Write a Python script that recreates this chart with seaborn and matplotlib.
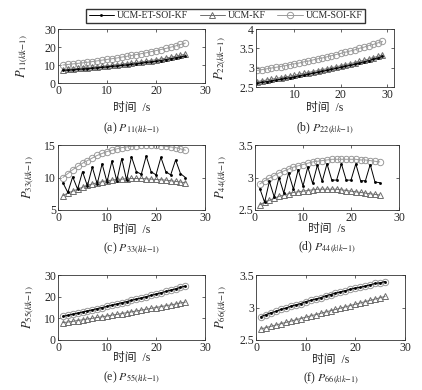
import numpy as np
import pandas as pd
import seaborn as sns
import matplotlib.pyplot as plt
from matplotlib.ticker import FixedLocator, FuncFormatter

# time steps
t = [1, 2, 3, 4, 5, 6, 7, 8, 9, 10, 11, 12, 13, 14, 15, 16, 17, 18, 19, 20,
     21, 22, 23, 24, 25, 26]
t_b = [2, 3, 4, 5, 6, 7, 8, 9, 10, 11, 12, 13, 14, 15, 16, 17, 18, 19, 20,
       21, 22, 23, 24, 25, 26, 27, 28, 29]

series_names = ["UCM-ET-SOI-KF", "UCM-KF", "UCM-SOI-KF"]

# (a) P11
et_a = [7.0, 7.2, 7.4, 7.6, 7.8, 8.0, 8.2, 8.5, 8.7, 9.0, 9.3, 9.5, 9.8,
        10.1, 10.4, 10.7, 11.1, 11.4, 11.8, 12.1, 12.5, 13.0, 13.5, 14.0,
        14.5, 15.0]
kf_a = [7.5, 7.7, 7.9, 8.1, 8.4, 8.6, 8.8, 9.1, 9.3, 9.6, 9.9, 10.2, 10.5,
        10.8, 11.1, 11.4, 11.8, 12.1, 12.5, 12.9, 13.3, 13.8, 14.3, 14.8,
        15.4, 16.0]
soi_a = [10.0, 10.3, 10.6, 10.9, 11.2, 11.5, 11.9, 12.3, 12.7, 13.1, 13.5,
         13.9, 14.4, 14.8, 15.3, 15.8, 16.3, 16.8, 17.4, 18.0, 18.6, 19.2,
         19.9, 20.6, 21.4, 22.2]

# (b) P22
et_b = [2.60, 2.62, 2.64, 2.66, 2.68, 2.70, 2.72, 2.74, 2.76, 2.79, 2.81,
        2.83, 2.86, 2.88, 2.91, 2.93, 2.96, 2.98, 3.01, 3.04, 3.06, 3.09,
        3.12, 3.15, 3.18, 3.22, 3.25, 3.29]
kf_b = [2.64, 2.66, 2.68, 2.70, 2.72, 2.74, 2.76, 2.78, 2.80, 2.83, 2.85,
        2.87, 2.90, 2.92, 2.95, 2.97, 3.00, 3.02, 3.05, 3.08, 3.10, 3.13,
        3.16, 3.19, 3.22, 3.26, 3.29, 3.33]
soi_b = [2.93, 2.95, 2.97, 2.99, 3.01, 3.03, 3.05, 3.08, 3.10, 3.12, 3.15,
         3.17, 3.20, 3.23, 3.25, 3.28, 3.31, 3.34, 3.37, 3.40, 3.43, 3.46,
         3.50, 3.53, 3.57, 3.60, 3.64, 3.68]

# (c) P33
et_c = [9.2, 7.7, 10.1, 8.2, 10.9, 8.7, 11.6, 9.0, 12.1, 9.3, 12.5, 9.5,
        12.9, 9.6, 13.2, 10.9, 10.5, 13.3, 10.9, 10.4, 13.1, 10.9, 10.4,
        12.7, 10.6, 10.0]
kf_c = [7.2, 7.6, 7.9, 8.2, 8.5, 8.8, 9.0, 9.2, 9.35, 9.5, 9.6, 9.7, 9.75,
        9.8, 9.85, 9.85, 9.85, 9.8, 9.75, 9.7, 9.65, 9.6, 9.5, 9.4, 9.3,
        9.2]
soi_c = [10.0, 10.6, 11.2, 11.7, 12.2, 12.6, 13.0, 13.4, 13.7, 14.0, 14.2,
         14.4, 14.6, 14.7, 14.8, 14.9, 15.0, 15.0, 15.0, 15.0, 14.9, 14.8,
         14.7, 14.6, 14.4, 14.2]

# (d) P44
et_d = [2.83, 2.62, 2.94, 2.70, 3.00, 2.76, 3.07, 2.82, 3.12, 2.87, 3.16,
        2.91, 3.19, 2.94, 3.21, 2.96, 2.96, 3.21, 2.96, 2.96, 3.21, 2.95,
        2.95, 3.20, 2.93, 2.92]
kf_d = [2.58, 2.62, 2.65, 2.68, 2.71, 2.73, 2.75, 2.77, 2.78, 2.79, 2.80,
        2.81, 2.82, 2.82, 2.82, 2.82, 2.82, 2.81, 2.80, 2.79, 2.78, 2.77,
        2.76, 2.75, 2.74, 2.73]
soi_d = [2.90, 2.95, 2.99, 3.03, 3.07, 3.10, 3.13, 3.16, 3.18, 3.20, 3.22,
         3.24, 3.25, 3.26, 3.27, 3.28, 3.28, 3.28, 3.28, 3.28, 3.28, 3.27,
         3.27, 3.26, 3.25, 3.24]

# (e) P55
et_e = [10.9, 11.4, 11.9, 12.4, 12.9, 13.4, 13.9, 14.5, 15.0, 15.5, 16.1,
        16.6, 17.2, 17.7, 18.3, 18.9, 19.4, 20.0, 20.6, 21.2, 21.8, 22.4,
        23.0, 23.6, 24.3, 24.9]
kf_e = [8.0, 8.3, 8.6, 9.0, 9.3, 9.7, 10.0, 10.4, 10.7, 11.1, 11.5, 11.8,
        12.2, 12.6, 13.0, 13.4, 13.8, 14.2, 14.6, 15.0, 15.4, 15.8, 16.2,
        16.6, 17.1, 17.5]
soi_e = [10.9, 11.4, 11.9, 12.4, 12.9, 13.4, 13.9, 14.5, 15.0, 15.5, 16.1,
         16.6, 17.2, 17.7, 18.3, 18.9, 19.4, 20.0, 20.6, 21.2, 21.8, 22.4,
         23.0, 23.6, 24.3, 24.9]

# (f) P66
et_f = [2.86, 2.89, 2.92, 2.94, 2.97, 2.99, 3.02, 3.04, 3.06, 3.09, 3.11,
        3.13, 3.15, 3.18, 3.20, 3.22, 3.24, 3.26, 3.28, 3.30, 3.31, 3.33,
        3.35, 3.37, 3.38, 3.40]
kf_f = [2.67, 2.69, 2.71, 2.73, 2.75, 2.77, 2.79, 2.81, 2.83, 2.85, 2.87,
        2.89, 2.91, 2.93, 2.95, 2.97, 2.99, 3.01, 3.03, 3.05, 3.07, 3.09,
        3.11, 3.13, 3.15, 3.17]
soi_f = [2.86, 2.89, 2.92, 2.94, 2.97, 2.99, 3.02, 3.04, 3.06, 3.09, 3.11,
         3.13, 3.15, 3.18, 3.20, 3.22, 3.24, 3.26, 3.28, 3.30, 3.31, 3.33,
         3.35, 3.37, 3.38, 3.40]

yticks_a = [0, 10, 20, 30]
yticks_b = [2.5, 3, 3.5, 4]
yticks_c = [5, 10, 15]
yticks_d = [2.5, 3, 3.5]
xticks_all = [0, 10, 20, 30]
xticks_b = [10, 20, 30]

sns.set_style("ticks")
plt.rcParams["font.family"] = ["Liberation Serif", "Noto Sans CJK SC"]
plt.rcParams["mathtext.fontset"] = "stix"
plt.rcParams["xtick.direction"] = "in"
plt.rcParams["ytick.direction"] = "in"

W, H = 422, 390
fig = plt.figure(figsize=(W / 100, H / 100), dpi=100)

# panel: (box px left, top, right, bottom), x, series, xlim, ylim, ticks, label idx,
#        xlabel y px, title y px, ylabel x px
panels = [
    ((58, 29, 205, 83), t, et_a, kf_a, soi_a, (0, 30), (0, 30), xticks_all, yticks_a, "11", "(a)", 108, 128, 22),
    ((256, 29, 394, 87), t_b, et_b, kf_b, soi_b, (1.7, 31.5), (2.5, 4), xticks_b, yticks_b, "22", "(b)", 108, 128, 220),
    ((58, 145, 205, 210), t, et_c, kf_c, soi_c, (0, 30), (5, 15), xticks_all, yticks_c, "33", "(c)", 230, 248, 28),
    ((255, 145, 399, 210), t, et_d, kf_d, soi_d, (0, 30), (2.5, 3.5), xticks_all, yticks_d, "44", "(d)", 229, 247, 221),
    ((58, 275, 205, 340), t, et_e, kf_e, soi_e, (0, 30), (0, 30), xticks_all, yticks_a, "55", "(e)", 358, 377, 28),
    ((256, 275, 405, 340), t, et_f, kf_f, soi_f, (0, 30), (2.5, 3.5), xticks_all, yticks_d, "66", "(f)", 360, 378, 221),
]

c_et = "black"
c_kf = "#6e6e6e"
c_soi = "#9a9a9a"
fmt = FuncFormatter(lambda v, p: f"{v:g}")

handles = None
for (box, x, et, kf, soi, xlim, ylim, xt, yt, idx, tag, xl_y, ti_y, yl_x) in panels:
    l, tp, r, b = box
    ax = fig.add_axes([l / W, 1 - b / H, (r - l) / W, (b - tp) / H])
    sns.lineplot(x=x, y=soi, ax=ax, color=c_soi, linewidth=0.7, marker="o",
                 markersize=4.6, markerfacecolor="none", markeredgecolor=c_soi,
                 markeredgewidth=0.7, label=series_names[2], errorbar=None)
    sns.lineplot(x=x, y=kf, ax=ax, color=c_kf, linewidth=0.7, marker="^",
                 markersize=4.2, markerfacecolor="none", markeredgecolor=c_kf,
                 markeredgewidth=0.7, label=series_names[1], errorbar=None)
    sns.lineplot(x=x, y=et, ax=ax, color=c_et, linewidth=0.7, marker=".",
                 markersize=3, markerfacecolor=c_et, markeredgecolor=c_et,
                 markeredgewidth=0.5, label=series_names[0], errorbar=None)
    if handles is None:
        h, lab = ax.get_legend_handles_labels()
        handles = [h[2], h[1], h[0]]
    ax.get_legend().remove()
    ax.set_xlim(*xlim)
    ax.set_ylim(*ylim)
    ax.xaxis.set_major_locator(FixedLocator(xt))
    ax.yaxis.set_major_locator(FixedLocator(yt))
    ax.yaxis.set_major_formatter(fmt)
    ax.xaxis.set_major_formatter(fmt)
    ax.tick_params(labelsize=8.5, length=2, width=0.5, top=True, right=True, pad=1.5)
    for s in ax.spines.values():
        s.set_linewidth(0.6)
        s.set_color("#333333")
    ax.set_xlabel("")
    ax.set_ylabel("")
    cx = (l + r) / 2 / W
    fig.text(cx, 1 - xl_y / H, "时间  /s", ha="center", va="center", fontsize=8.5)
    fig.text(cx, 1 - ti_y / H, tag + r" $P_{" + idx + r"(k|k\mathrm{-}1)}$",
             ha="center", va="center", fontsize=8.5)
    fig.text(yl_x / W, 1 - (tp + b) / 2 / H, r"$P_{" + idx + r"(k|k\mathrm{-}1)}$",
             ha="center", va="center", rotation=90, fontsize=9)

fig.legend(handles, series_names, loc="center", bbox_to_anchor=(225.5 / W, 1 - 16 / H),
           ncol=3, frameon=True, fancybox=False, edgecolor="#333333", fontsize=7,
           handlelength=2.6, columnspacing=1.2, borderpad=0.3, handletextpad=0.3,
           framealpha=1)

fig.savefig("out.png", dpi=100)
